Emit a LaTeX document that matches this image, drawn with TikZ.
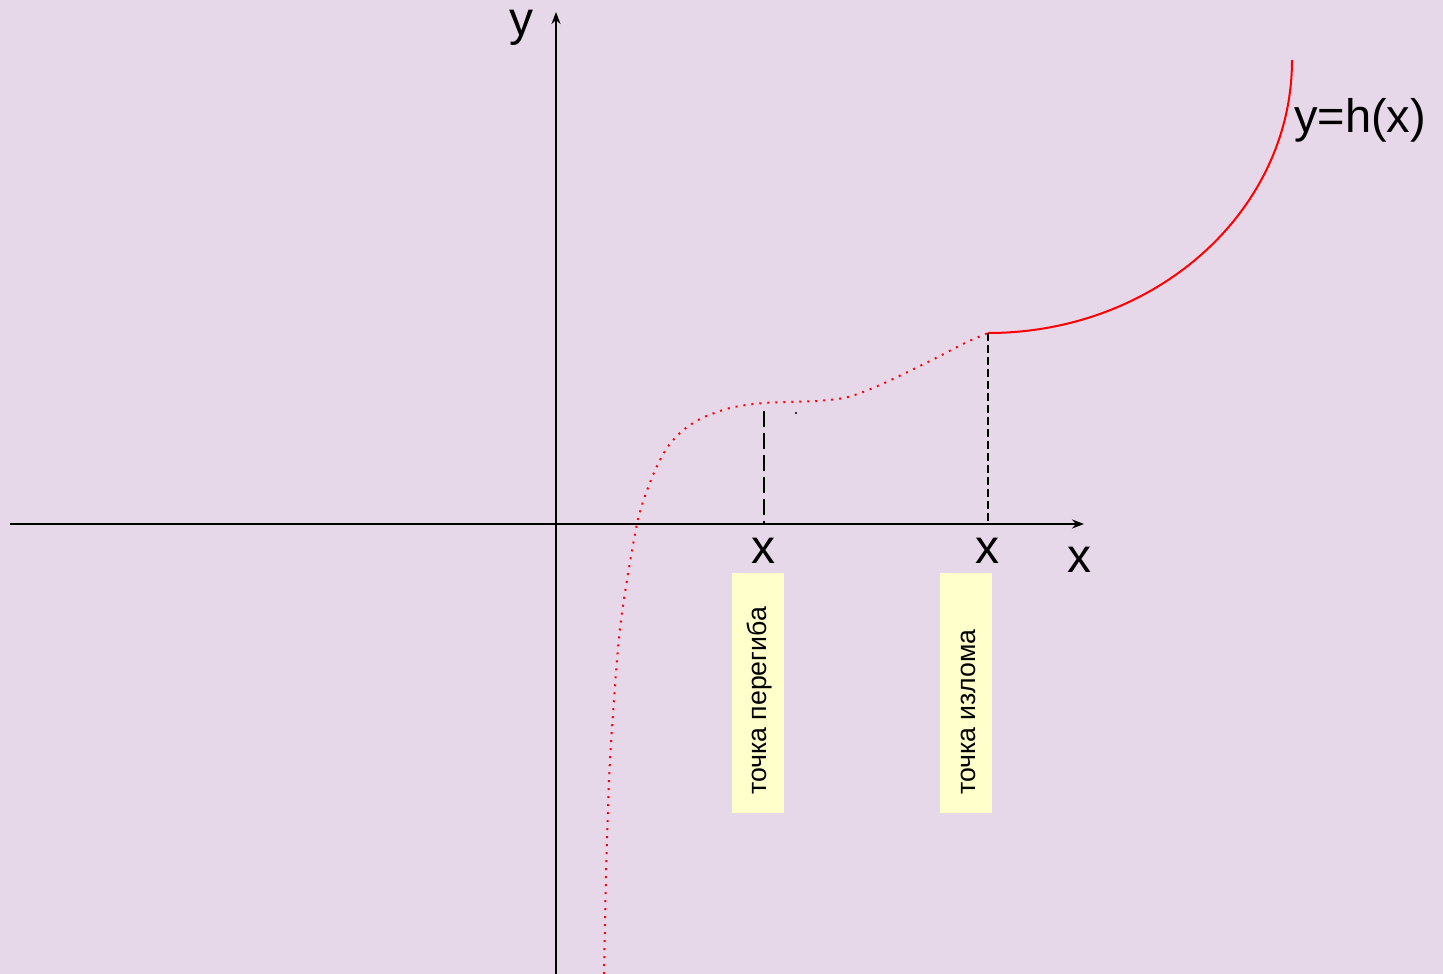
\documentclass[tikz,border=0pt]{standalone}
\usepackage{fontspec}
\setmainfont{Liberation Sans}
\usetikzlibrary{arrows.meta}
\definecolor{bg}{HTML}{E7D8E9}
\definecolor{note}{HTML}{FFFFCC}
\definecolor{curvered}{HTML}{FF0000}
\begin{document}
\begin{tikzpicture}[x=1pt,y=-1pt,
  axis/.style={draw=black,line width=1.8pt,-{Stealth[length=12pt,width=9pt]}},
  lab/.style={inner sep=0pt,text height=25pt,text depth=10pt,font=\fontsize{48}{52}\selectfont},
  flab/.style={inner sep=0pt,font=\fontsize{47}{52}\selectfont},
  notebox/.style={fill=note,draw=none,minimum width=52pt,minimum height=240pt,inner sep=0pt},
  notetext/.style={inner sep=0pt,rotate=90,anchor=base west,font=\fontsize{26.7}{30}\selectfont},
  longdash/.style={draw=black,line width=2pt,dash pattern=on 16pt off 6pt},
  shortdash/.style={draw=black,line width=2pt,dash pattern=on 8pt off 4pt},
  curvedot/.style={draw=curvered,line width=2pt,dash pattern=on 2pt off 6pt},
  curvesolid/.style={draw=curvered,line width=2pt}]
\fill[bg] (0,0) rectangle (1443,974);
\useasboundingbox (0,0) rectangle (1443,974);
% axes
\coordinate (xs) at (10,524);
\coordinate (xe) at (1084,524);
\coordinate (ys) at (556,974);
\coordinate (ye) at (556,12);
\draw[axis] (xs) -- (xe);
\draw[axis] (ys) -- (ye);
% labels
\node[lab,anchor=base] (ylab) at (521,36) {y};
\node[lab,anchor=base] (xlab) at (1079,572) {x};
\node[lab,anchor=base] (x1) at (763,563) {x};
\node[lab,anchor=base] (x2) at (987,563) {x};
\node[flab,anchor=base west] (hlab) at (1294,132) {y=h(x)};
% curve
\coordinate (k) at (988,333);
\coordinate (top) at (1292,60);
\draw[curvedot] plot[smooth] coordinates {(604,974) (606,876) (609,780) (614,700) (621,620) (637,524) (651,480) (665,451) (680,433) (700,419) (730,408) (764,403) (817,401) (848,397) (880,385) (930,361) (965,343) (988,333)};
\draw[curvesolid] (k) .. controls (1156,333) and (1292,211) .. (top);
% dashed drops
\coordinate (p1) at (764,411);
\coordinate (q1) at (764,524);
\coordinate (q2) at (988,524);
\draw[longdash] (p1) -- (q1);
\draw[shortdash] (k) -- (q2);
\fill[black] (796,413) circle (1.2pt);
% notes
\node[notebox] (b1) at (758,693) {};
\node[notebox] (b2) at (966,693) {};
\node[notetext] (t1) at (766,795) {точка перегиба};
\node[notetext] (t2) at (975,795) {точка излома};
\end{tikzpicture}
\end{document}
